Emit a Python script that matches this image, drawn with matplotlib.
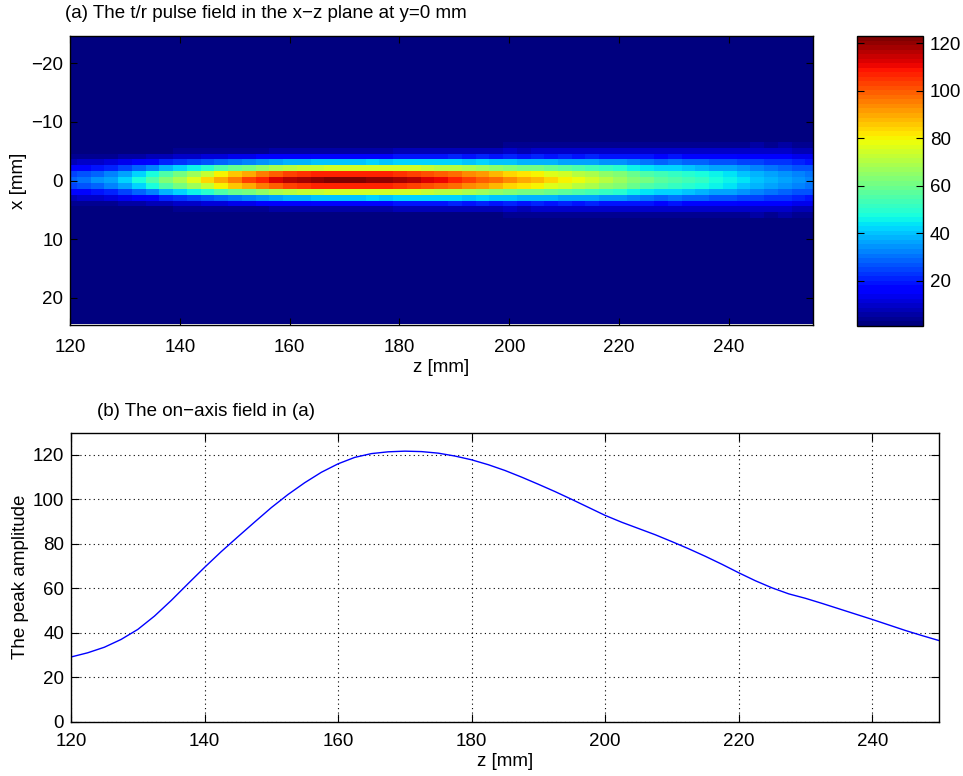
import numpy as np
import matplotlib.pyplot as plt

plt.rcParams['font.family'] = ['Liberation Sans', 'DejaVu Sans']
plt.rcParams['font.size'] = 13.5

# z samples [mm] and the on-axis peak amplitude along them
z_mm = [120.0, 122.5, 125.0, 127.5, 130.0, 132.5, 135.0, 137.5, 140.0, 142.5,
        145.0, 147.5, 150.0, 152.5, 155.0, 157.5, 160.0, 162.5, 165.0, 167.5,
        170.0, 172.5, 175.0, 177.5, 180.0, 182.5, 185.0, 187.5, 190.0, 192.5,
        195.0, 197.5, 200.0, 202.5, 205.0, 207.5, 210.0, 212.5, 215.0, 217.5,
        220.0, 222.5, 225.0, 227.5, 230.0, 232.5, 235.0, 237.5, 240.0, 242.5,
        245.0, 247.5, 250.0, 252.5, 255.0]
on_axis = [29.1, 31.0, 33.5, 37.0, 41.5, 47.5, 54.5, 62.0, 69.4, 76.5,
           83.2, 89.8, 96.3, 102.2, 107.5, 112.2, 116.0, 118.9, 120.6, 121.4,
           121.7, 121.5, 120.8, 119.5, 117.8, 115.6, 113.0, 110.0, 106.8, 103.5,
           100.0, 96.4, 92.8, 89.7, 86.9, 84.1, 81.0, 77.8, 74.4, 70.8,
           67.0, 63.4, 60.2, 57.5, 55.5, 53.2, 50.8, 48.4, 46.0, 43.5,
           41.0, 38.7, 36.5, 34.5, 32.5]

# transverse beam width (gaussian sigma, mm) every 5 mm from z=120 to z=255
beam_sigma = [1.9, 1.9, 1.95, 2.0, 2.0, 2.0, 2.0, 2.0, 2.0, 2.0,
              2.0, 2.05, 2.1, 2.15, 2.2, 2.25, 2.3, 2.35, 2.4, 2.5,
              2.55, 2.6, 2.7, 2.75, 2.8, 2.9, 3.0, 3.0]

x_rows = np.arange(-24, 25)  # transverse grid [mm]

z = np.array(z_mm)
amp = np.array(on_axis)
sig = np.repeat(beam_sigma, 2)[:len(z)]
field = amp[None, :] * np.exp(-x_rows[:, None] ** 2 / (2 * sig[None, :] ** 2))

fig = plt.figure(figsize=(9.63, 7.76), dpi=100)
ax1 = fig.add_axes([70 / 963, 1 - 325 / 776, 743 / 963, 289 / 776])
cax = fig.add_axes([857 / 963, 1 - 326 / 776, 66 / 963, 290 / 776])
ax2 = fig.add_axes([71 / 963, 1 - 721.7 / 776, 868 / 963, 289 / 776])

# (a) field map
dz = z[1] - z[0]
im = ax1.imshow(field, cmap=plt.get_cmap('jet', 64), aspect='auto',
                interpolation='nearest', origin='upper',
                extent=[z[0] - dz / 2, z[-1] + dz / 2, 24.5, -24.5])
im.set_clim(1, 123)
ax1.set_xlim(120, 255.3)
ax1.set_ylim(24.6, -24.6)
ax1.set_xticks([120, 140, 160, 180, 200, 220, 240])
ax1.set_yticks([-20, -10, 0, 10, 20])
ax1.tick_params(direction='in', top=True, right=True, length=5, width=0.8)
ax1.tick_params(axis='x', pad=10)
ax1.tick_params(axis='y', pad=5)
ax1.set_xlabel('z [mm]', labelpad=2)
ax1.set_ylabel('x [mm]', labelpad=3)
for s in ax1.spines.values():
    s.set_linewidth(1.0)

cb = fig.colorbar(im, cax=cax, ticks=[20, 40, 60, 80, 100, 120])
cax.tick_params(direction='in', left=True, right=True, length=5, width=0.8, pad=5)
cb.outline.set_linewidth(1.0)

fig.text(65 / 963, 1 - 14 / 776, '(a) The t/r pulse field in the x\u2212z plane at y=0 mm',
         ha='left', va='center')

# (b) on-axis amplitude
ax2.plot(z, amp, color='b', lw=1.0)
ax2.set_xlim(120, 250)
ax2.set_ylim(0, 130)
ax2.set_xticks([120, 140, 160, 180, 200, 220, 240])
ax2.set_yticks([0, 20, 40, 60, 80, 100, 120])
ax2.grid(True, color='k', linestyle=(0, (1, 3)), linewidth=0.8)
ax2.tick_params(direction='in', top=True, right=True, length=6, width=0.8)
ax2.tick_params(axis='x', pad=8)
ax2.tick_params(axis='y', pad=5)
ax2.set_xlabel('z [mm]', labelpad=2)
ax2.set_ylabel('The peak amplitude', labelpad=3)
for s in ax2.spines.values():
    s.set_linewidth(1.0)

fig.text(97 / 963, 1 - 411 / 776, '(b) The on\u2212axis field in (a)',
         ha='left', va='center')

fig.savefig('out.png', dpi=100)
